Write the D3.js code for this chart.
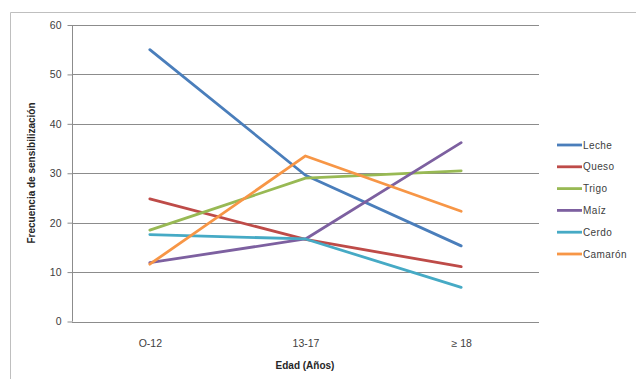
<!DOCTYPE html>
<html>
<head>
<meta charset="utf-8">
<script src="https://cdn.jsdelivr.net/npm/d3@7"></script>
<style>
  html, body { margin: 0; padding: 0; background: #fff; }
  svg { display: block; }
  text { font-family: "Liberation Sans", Arial, sans-serif; }
</style>
</head>
<body>
<svg id="chart" width="636" height="379"></svg>
<script>
// Age groups on the x axis
const categories = ["O-12", "13-17", "\u2265 18"];

// Sensitization frequency per food, one value per age group
const leche   = [55.0, 29.6, 15.3];
const queso   = [24.8, 16.6, 11.1];
const trigo   = [18.5, 29.0, 30.5];
const maiz    = [11.9, 16.7, 36.2];
const cerdo   = [17.6, 16.7, 6.9];
const camaron = [11.6, 33.5, 22.3];

const seriesNames = ["Leche", "Queso", "Trigo", "Maíz", "Cerdo", "Camarón"];
const seriesColors = ["#4A7EBB", "#BE4B48", "#98B954", "#7D60A0", "#46AAC5", "#F79646"];
const yTicks = [0, 10, 20, 30, 40, 50, 60];

const series = [leche, queso, trigo, maiz, cerdo, camaron].map((values, i) => ({
  name: seriesNames[i], color: seriesColors[i], values
}));

const svg = d3.select("#chart");
const plot = { left: 72, top: 25, right: 539, bottom: 321.5 };

// Chart frame (only top and left edges fall within the view)
svg.append("path")
  .attr("d", "M10.5,379 L10.5,12.5 L636,12.5")
  .attr("fill", "none")
  .attr("stroke", "#BFBFBF")
  .attr("stroke-width", 1);

const x = d3.scalePoint().domain(categories).range([plot.left, plot.right]).padding(0.5);
const y = d3.scaleLinear().domain([0, 60]).range([plot.bottom, plot.top]);

// Horizontal gridlines
svg.append("g")
  .selectAll("line")
  .data(yTicks.filter(t => t > 0))
  .join("line")
  .attr("x1", plot.left).attr("x2", plot.right)
  .attr("y1", d => Math.round(y(d)) + 0.5).attr("y2", d => Math.round(y(d)) + 0.5)
  .attr("stroke", "#8C8C8C").attr("stroke-width", 1);

// Y axis
const yAxis = svg.append("g")
  .attr("transform", `translate(${plot.left + 0.5},0)`)
  .call(d3.axisLeft(y).tickValues(yTicks).tickSize(5).tickPadding(6).tickFormat(d3.format("d")));
yAxis.select(".domain").attr("stroke", "#8C8C8C").attr("d", `M0,${plot.top}V${plot.bottom}`);
yAxis.selectAll(".tick line").attr("stroke", "#8C8C8C");
yAxis.selectAll(".tick text").attr("font-size", 10.5).attr("fill", "#404040");

// X axis
const xAxis = svg.append("g")
  .attr("transform", `translate(0,${Math.round(plot.bottom) + 0.5})`)
  .call(d3.axisBottom(x).tickSize(0).tickPadding(17));
xAxis.select(".domain").attr("stroke", "#8C8C8C").attr("d", `M${plot.left},0H${plot.right}`);
xAxis.selectAll(".tick text").attr("font-size", 10.5).attr("fill", "#404040");

// Axis titles
svg.append("text")
  .attr("x", 305).attr("y", 369)
  .attr("text-anchor", "middle")
  .attr("font-size", 10).attr("font-weight", "bold").attr("fill", "#262626")
  .text("Edad (Años)");

svg.append("text")
  .attr("transform", "translate(35,173) rotate(-90)")
  .attr("text-anchor", "middle")
  .attr("font-size", 10).attr("font-weight", "bold").attr("fill", "#262626")
  .text("Frecuencia de sensibilización");

// Series lines
const line = d3.line()
  .x((d, i) => x(categories[i]))
  .y(d => y(d));

svg.append("g")
  .selectAll("path")
  .data(series)
  .join("path")
  .attr("d", d => line(d.values))
  .attr("fill", "none")
  .attr("stroke", d => d.color)
  .attr("stroke-width", 2.8)
  .attr("stroke-linejoin", "round")
  .attr("stroke-linecap", "round");

// Legend
const legend = svg.append("g")
  .selectAll("g")
  .data(series)
  .join("g")
  .attr("transform", (d, i) => `translate(557,${145 + i * 21.8})`);

legend.append("line")
  .attr("x1", 0).attr("x2", 25)
  .attr("stroke", d => d.color).attr("stroke-width", 2.8);

legend.append("text")
  .attr("x", 26).attr("dy", "0.35em")
  .attr("font-size", 10).attr("fill", "#404040")
  .attr("letter-spacing", 0.4)
  .text(d => d.name);
</script>
</body>
</html>
